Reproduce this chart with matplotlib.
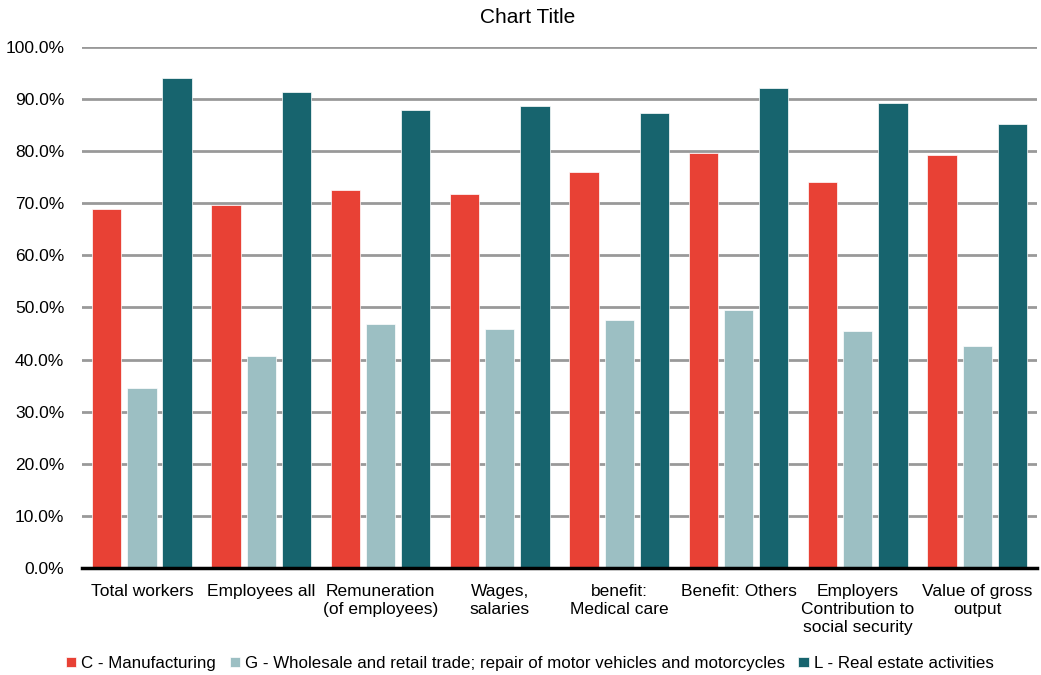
import matplotlib
matplotlib.use("Agg")
import matplotlib.pyplot as plt
import numpy as np
from matplotlib.ticker import PercentFormatter

plt.rcParams["font.family"] = ["Liberation Sans", "DejaVu Sans"]

categories = ["Total workers", "Employees all", "Remuneration\n(of employees)",
              "Wages,\nsalaries", "benefit:\nMedical care", "Benefit: Others",
              "Employers\nContribution to\nsocial security", "Value of gross\noutput"]
manufacturing = [68.8, 69.6, 72.6, 71.7, 75.9, 79.6, 74.0, 79.2]
wholesale = [34.5, 40.7, 46.9, 45.9, 47.6, 49.6, 45.5, 42.7]
real_estate = [94.0, 91.3, 87.8, 88.6, 87.2, 92.0, 89.2, 85.2]

series = [("C - Manufacturing", manufacturing, "#E84135"),
          ("G - Wholesale and retail trade; repair of motor vehicles and motorcycles", wholesale, "#9CBFC3"),
          ("L - Real estate activities", real_estate, "#17646E")]

fig = plt.figure(figsize=(10.41, 6.75), dpi=100)
ax = fig.add_axes([0.079, 0.158, 0.917, 0.773])

x = np.arange(len(categories))
w = 0.245
offs = [-0.295, 0, 0.295]
for (name, vals, col), o in zip(series, offs):
    ax.bar(x + o, vals, w, color=col, label=name, edgecolor="white", linewidth=0.5, zorder=3)

ax.set_xlim(-0.5, len(categories) - 0.5)
ax.set_ylim(0, 100)
ax.set_yticks(np.arange(0, 101, 10))
ax.yaxis.set_major_formatter(PercentFormatter(decimals=1))
ax.grid(axis="y", color="#999999", linewidth=2, zorder=0)
ax.set_xticks(x)
ax.set_xticklabels(categories, fontsize=12.5, linespacing=1.28)
ax.tick_params(axis="y", labelsize=12.5, length=0, pad=13)
ax.tick_params(axis="x", length=0, pad=11)
for s in ["top", "right", "left"]:
    ax.spines[s].set_visible(False)
ax.spines["bottom"].set_linewidth(2.5)
ax.spines["bottom"].set_zorder(4)

fig.text(0.507, 0.974, "Chart Title", fontsize=15, ha="center", va="center")
fig.legend(*ax.get_legend_handles_labels(), loc="center", bbox_to_anchor=(0.509, 0.017),
           ncol=3, frameon=False, fontsize=12.2, handlelength=0.6, handleheight=0.6,
           handletextpad=0.3, columnspacing=0.8)

fig.savefig("out.png", dpi=100)
